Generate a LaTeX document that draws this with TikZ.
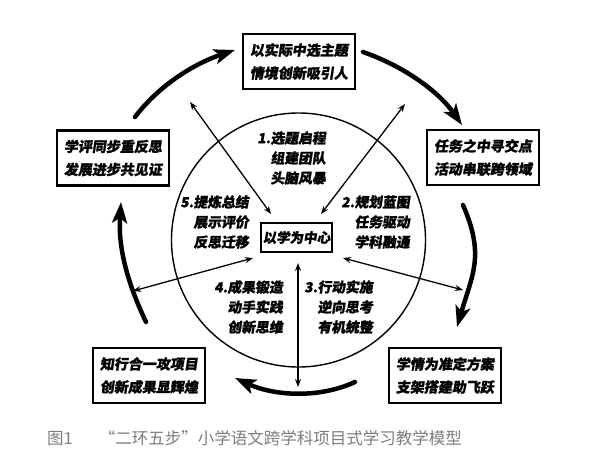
\documentclass[tikz,border=0pt]{standalone}
\usepackage{fontspec}
\newfontfamily\cjk{Noto Sans CJK SC}[FakeSlant=0.15, BoldFeatures={FakeBold=1.2}]
\newfontfamily\cjkcap{Noto Sans CJK SC}
\usetikzlibrary{arrows.meta}
\definecolor{capgray}{RGB}{125,125,125}
\begin{document}
\begin{tikzpicture}[x=1pt,y=-1pt,
  outerbox/.style={draw, line width=2.6pt, minimum width=112pt, minimum height=55pt,
    inner sep=0pt, align=center, font=\cjk\bfseries\fontsize{14}{23}\selectfont},
  centerbox/.style={draw, line width=2pt, minimum width=71pt, minimum height=29pt,
    inner sep=0pt, font=\cjk\bfseries\fontsize{13.5}{16}\selectfont},
  steptext/.style={align=right, inner sep=0pt, anchor=east,
    font=\cjk\bfseries\fontsize{13.8}{20}\selectfont},
  thickarc/.style={line width=4.5pt, line cap=round,
    -{Stealth[length=21pt,width=15pt,inset=5pt]}},
  thinarrow/.style={line width=1.3pt,
    {Stealth[length=8pt,width=6pt]}-{Stealth[length=8pt,width=6pt]}}
]
\useasboundingbox (0,0) rectangle (600,469);

% ring
\node[circle, draw, line width=1.4pt, minimum size=254pt, inner sep=0pt] (ring) at (298.5,240) {};

% boxes
\node[outerbox] (top) at (299,61.5) {以实际中选主题\\情境创新吸引人};
\node[outerbox] (right) at (483,157.5) {任务之中寻交点\\活动串联跨领域};
\node[outerbox] (bright) at (445,375.5) {学情为准定方案\\支架搭建助飞跃};
\node[outerbox] (bleft) at (149,375.5) {知行合一攻项目\\创新成果显辉煌};
\node[outerbox] (left) at (113,158) {学评同步重反思\\发展进步共见证};
\node[centerbox] (center) at (296.5,237.5) {以学为中心};

% step texts
\node[steptext] (s1) at (326,158) {1.选题启程\\组建团队\\头脑风暴};
\node[steptext] (s2) at (410,222) {2.规划蓝图\\任务驱动\\学科融通};
\node[steptext] (s3) at (373,307) {3.行动实施\\逆向思考\\有机统整};
\node[steptext] (s4) at (283,307) {4.成果锻造\\动手实践\\创新思维};
\node[steptext] (s5) at (249,222) {5.提炼总结\\展示评价\\反思迁移};

% outer cycle arcs
\coordinate (a0) at (135,117);  \coordinate (a1) at (235,50);
\coordinate (b0) at (363,52);   \coordinate (b1) at (462,125);
\coordinate (c0) at (463,205);  \coordinate (c1) at (457,327);
\coordinate (d0) at (355,382);  \coordinate (d1) at (235,378);
\coordinate (e0) at (146,322);  \coordinate (e1) at (121,202);
\draw[thickarc] (a0) .. controls (160,84) and (196,63) .. (a1);
\draw[thickarc] (b0) .. controls (402.6,65.7) and (437.9,90.6) .. (b1);
\draw[thickarc] (c0) .. controls (485,255.6) and (472.4,274.2) .. (c1);
\draw[thickarc] (d0) .. controls (317,399.3) and (273,395.3) .. (d1);
\draw[thickarc] (e0) .. controls (127,282) and (118,247) .. (e1);

% thin double arrows
\coordinate (t1o) at (190,102); \coordinate (t1i) at (271,214);
\coordinate (t2o) at (405,104); \coordinate (t2i) at (321,214);
\coordinate (t3o) at (133,291); \coordinate (t3i) at (253,258);
\coordinate (t4o) at (463,290); \coordinate (t4i) at (343,258);
\coordinate (t5o) at (298,387); \coordinate (t5i) at (298,263);
\draw[thinarrow] (t1o) -- (t1i);
\draw[thinarrow] (t2o) -- (t2i);
\draw[thinarrow] (t3o) -- (t3i);
\draw[thinarrow] (t4o) -- (t4i);
\draw[thinarrow] (t5o) -- (t5i);

% caption
\node[anchor=west, inner sep=0pt, text=capgray, font=\cjkcap\fontsize{16.5}{20}\selectfont]
  (cap) at (47,438) {图1\hspace{26pt}“二环五步”小学语文跨学科项目式学习教学模型};
\end{tikzpicture}
\end{document}
